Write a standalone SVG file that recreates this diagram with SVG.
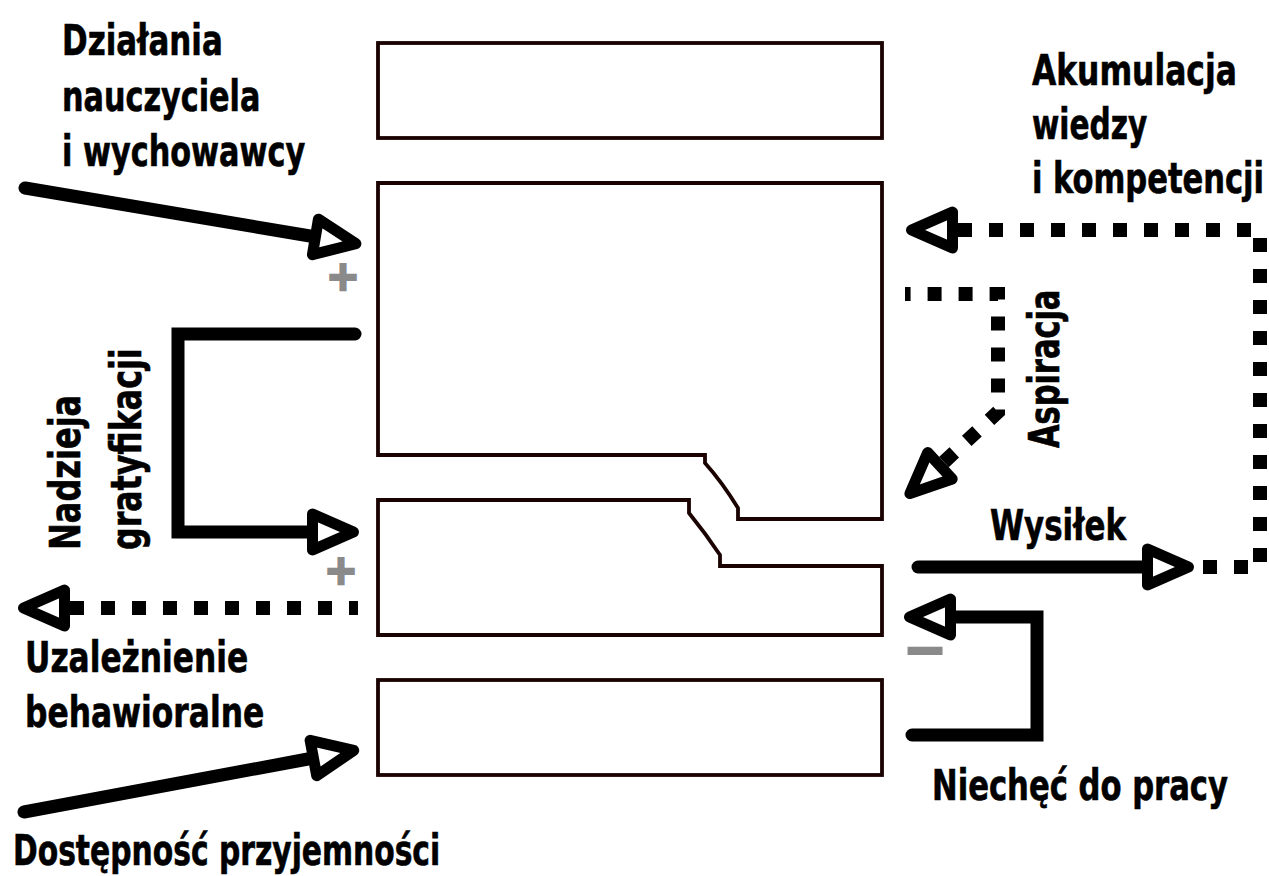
<svg xmlns="http://www.w3.org/2000/svg" width="1269" height="876" viewBox="0 0 1269 876">
  <style>
    .box { fill: #fff; stroke: #1a0200; stroke-width: 3.8; stroke-linejoin: miter; }
    .solid { fill: none; stroke: #000; stroke-width: 13; stroke-linecap: round; stroke-linejoin: miter; }
    .dashed { fill: none; stroke: #000; stroke-width: 14; stroke-dasharray: 14 17; stroke-linecap: butt; }
    .lbl { font-family: 'DejaVu Sans Condensed', 'DejaVu Sans', sans-serif; font-weight: bold; font-size: 42px; fill: #000; stroke: #000; stroke-width: 0.6; }
    .sign { font-family: 'DejaVu Sans', sans-serif; font-weight: bold; fill: #8a8a8a; stroke: #8a8a8a; stroke-width: 2.4; text-anchor: middle; }
  </style>
  <defs>
    <marker id="head" markerUnits="userSpaceOnUse" orient="auto" refX="0" refY="0" markerWidth="60" markerHeight="60" overflow="visible">
      <path d="M5.5,-18 L46.5,0 L5.5,18 Z" fill="#fff" stroke="#000" stroke-width="11" stroke-linejoin="round"/>
    </marker>
    <marker id="headStart" markerUnits="userSpaceOnUse" orient="auto-start-reverse" refX="0" refY="0" markerWidth="60" markerHeight="60" overflow="visible">
      <path d="M5.5,-18 L46.5,0 L5.5,18 Z" fill="#fff" stroke="#000" stroke-width="11" stroke-linejoin="round"/>
    </marker>
  </defs>

  <rect width="1269" height="876" fill="#fff"/>

  <!-- central blocks -->
  <g id="block-top">
    <rect class="box" x="378" y="43" width="504" height="95"/>
  </g>
  <g id="block-upper">
    <path class="box" d="M378,183 L882,183 L882,519 L738,519 L738,508 Q722,482 705,463 L705,455 L378,455 Z"/>
  </g>
  <g id="block-lower">
    <path class="box" d="M378,500 L689,500 L689,513 Q706,534 720,555 L720,566 L882,566 L882,635 L378,635 Z"/>
  </g>
  <g id="block-bottom">
    <rect class="box" x="378" y="680" width="504" height="95"/>
  </g>

  <!-- connectors -->
  <g id="connectors">
    <path class="solid" d="M25,188 L310,236" marker-end="url(#head)"/>
    <path class="solid" d="M24,812 L308,759" marker-end="url(#head)"/>
    <path class="solid" d="M355,334 L178,334 L178,532 L307,532" marker-end="url(#head)"/>
    <path class="solid" d="M918,567 L1142,567" marker-end="url(#head)"/>
    <path class="solid" d="M912,735 L1037,735 L1037,617 L956,617" marker-end="url(#head)"/>
    <path class="dashed" d="M958,230 L1260,230 L1260,567 L1198,567" marker-start="url(#headStart)"/>
    <path class="dashed" d="M944,462 L998,412 L998,294 L905,294" marker-start="url(#headStart)"/>
    <path class="dashed" d="M70,608 L358,608" marker-start="url(#headStart)"/>
  </g>

  <!-- influence signs -->
  <g id="signs">
    <text class="sign" x="343" y="290" font-size="40">+</text>
    <text class="sign" x="341" y="584" font-size="40">+</text>
    <text class="sign" x="925" y="667" font-size="52">−</text>
  </g>

  <!-- labels (condensed by a horizontal scale, widths pinned with textLength) -->
  <g id="label-dzialania">
    <text class="lbl" transform="translate(62,55) scale(0.8,1)" textLength="201" lengthAdjust="spacingAndGlyphs">Działania</text>
    <text class="lbl" transform="translate(62,111) scale(0.8,1)" textLength="248" lengthAdjust="spacingAndGlyphs">nauczyciela</text>
    <text class="lbl" transform="translate(62,166) scale(0.8,1)" textLength="304" lengthAdjust="spacingAndGlyphs">i wychowawcy</text>
  </g>
  <g id="label-akumulacja">
    <text class="lbl" transform="translate(1032,85) scale(0.8,1)" textLength="256" lengthAdjust="spacingAndGlyphs">Akumulacja</text>
    <text class="lbl" transform="translate(1032,139) scale(0.8,1)" textLength="144" lengthAdjust="spacingAndGlyphs">wiedzy</text>
    <text class="lbl" transform="translate(1032,193) scale(0.8,1)" textLength="290" lengthAdjust="spacingAndGlyphs">i kompetencji</text>
  </g>
  <g id="label-nadzieja">
    <text class="lbl" transform="translate(80,550) rotate(-90) scale(0.8,1)" textLength="194" lengthAdjust="spacingAndGlyphs">Nadzieja</text>
    <text class="lbl" transform="translate(141,550) rotate(-90) scale(0.8,1)" textLength="252" lengthAdjust="spacingAndGlyphs">gratyfikacji</text>
  </g>
  <g id="label-aspiracja">
    <text class="lbl" transform="translate(1059,448) rotate(-90) scale(0.8,1)" textLength="198" lengthAdjust="spacingAndGlyphs">Aspiracja</text>
  </g>
  <g id="label-wysilek">
    <text class="lbl" transform="translate(990,540) scale(0.8,1)" textLength="170" lengthAdjust="spacingAndGlyphs">Wysiłek</text>
  </g>
  <g id="label-uzaleznienie">
    <text class="lbl" transform="translate(25,672) scale(0.8,1)" textLength="279" lengthAdjust="spacingAndGlyphs">Uzależnienie</text>
    <text class="lbl" transform="translate(25,727) scale(0.8,1)" textLength="299" lengthAdjust="spacingAndGlyphs">behawioralne</text>
  </g>
  <g id="label-niechec">
    <text class="lbl" transform="translate(932,800) scale(0.8,1)" textLength="370" lengthAdjust="spacingAndGlyphs">Niechęć do pracy</text>
  </g>
  <g id="label-dostepnosc">
    <text class="lbl" transform="translate(13,865) scale(0.8,1)" textLength="534" lengthAdjust="spacingAndGlyphs">Dostępność przyjemności</text>
  </g>
</svg>
